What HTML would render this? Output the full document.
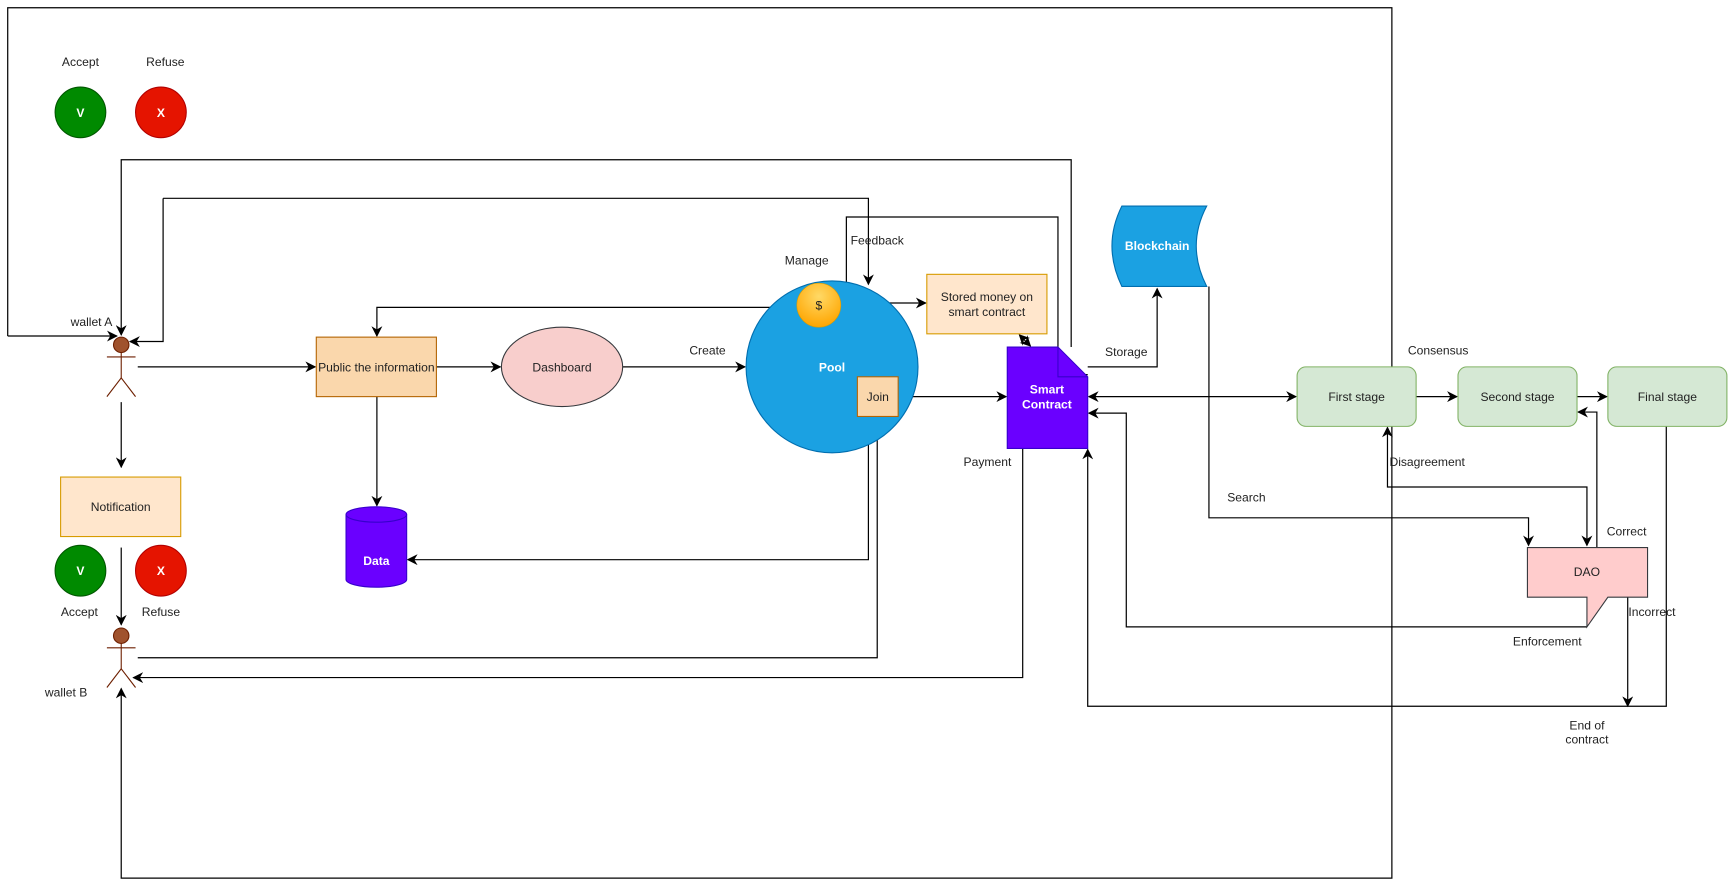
<!DOCTYPE html>
<html><head><meta charset="utf-8"><style>
html,body{margin:0;padding:0;background:#fff;}
svg{display:block;}
text{font-family:"Liberation Sans",Arial,sans-serif;font-size:11px;fill:#222;}
.w{fill:#fff;font-weight:bold;}
.l{fill:none;stroke:#000;stroke-width:1.1;}
</style></head><body>
<svg width="1728" height="888" viewBox="0 0 1568 806" preserveAspectRatio="none" xmlns="http://www.w3.org/2000/svg">
<defs>
<marker id="a" viewBox="0 0 10 10" refX="9" refY="5" markerWidth="9" markerHeight="9" orient="auto-start-reverse"><path d="M0,0 L10,5 L0,10 L3,5 z" fill="#000"/></marker>
<radialGradient id="g" cx="0.5" cy="0.3" r="0.7"><stop offset="0" stop-color="#ffd966"/><stop offset="1" stop-color="#ffa500"/></radialGradient>
</defs>
<rect width="1568" height="806" fill="#fff"/>
<polyline class="l" points="7,305 7,7 1263,7 1263,797 110,797 110,625" marker-end="url(#a)"/>
<line class="l" x1="7" y1="305" x2="106" y2="305" marker-end="url(#a)"/>
<polyline class="l" points="972,315 972,145 110,145 110,304" marker-end="url(#a)"/>
<polyline class="l" points="148,180 788,180 788,258" marker-end="url(#a)"/>
<polyline class="l" points="148,180 148,310 118,310" marker-end="url(#a)"/>
<polyline class="l" points="987,340 960,340 960,197 768,197 768,268" marker-end="url(#a)"/>
<polyline class="l" points="723,279 342,279 342,305" marker-end="url(#a)"/>
<line class="l" x1="765" y1="275" x2="840" y2="275" marker-end="url(#a)"/>
<line class="l" x1="925" y1="304" x2="935" y2="314" marker-start="url(#a)" marker-end="url(#a)"/>
<polyline class="l" points="987,333 1050,333 1050,262" marker-end="url(#a)"/>
<polyline class="l" points="1097,260 1097,470 1387,470 1387,495" marker-end="url(#a)"/>
<line class="l" x1="988" y1="360" x2="1176" y2="360" marker-start="url(#a)" marker-end="url(#a)"/>
<line class="l" x1="1285" y1="360" x2="1322" y2="360" marker-end="url(#a)"/>
<line class="l" x1="1431" y1="360" x2="1458" y2="360" marker-end="url(#a)"/>
<polyline class="l" points="1259,388 1259,442 1440,442 1440,495" marker-start="url(#a)" marker-end="url(#a)"/>
<polyline class="l" points="1449,497 1449,374 1432,374" marker-end="url(#a)"/>
<polyline class="l" points="1440,569 1022,569 1022,375 988,375" marker-end="url(#a)"/>
<line class="l" x1="1477" y1="542" x2="1477" y2="641" marker-end="url(#a)"/>
<polyline class="l" points="1512,387 1512,641 987,641 987,408" marker-end="url(#a)"/>
<polyline class="l" points="928,407 928,615 121,615" marker-end="url(#a)"/>
<line class="l" x1="815" y1="360" x2="913" y2="360" marker-end="url(#a)"/>
<polyline class="l" points="788,400 788,508 370,508" marker-end="url(#a)"/>
<polyline class="l" points="125,597 796,597 796,379" marker-end="url(#a)"/>
<line class="l" x1="125" y1="333" x2="286" y2="333" marker-end="url(#a)"/>
<line class="l" x1="396" y1="333" x2="454" y2="333" marker-end="url(#a)"/>
<line class="l" x1="565" y1="333" x2="676" y2="333" marker-end="url(#a)"/>
<line class="l" x1="342" y1="360" x2="342" y2="459" marker-end="url(#a)"/>
<line class="l" x1="110" y1="365" x2="110" y2="424" marker-end="url(#a)"/>
<line class="l" x1="110" y1="497" x2="110" y2="567" marker-end="url(#a)"/>
<circle cx="755" cy="333" r="78" fill="#1ba1e2" stroke="#006eaf"/>
<text class="w" x="755" y="337" text-anchor="middle">Pool</text>
<circle cx="743" cy="277" r="20" fill="url(#g)" stroke="#d79b00" stroke-width="0.5"/>
<text x="743" y="281" text-anchor="middle">$</text>
<rect x="778" y="342" width="37" height="36" fill="#fad7ac" stroke="#b46504"/>
<text x="796.5" y="364" text-anchor="middle">Join</text>
<rect x="841" y="249" width="109" height="54" fill="#ffe6cc" stroke="#d79b00"/>
<text x="895.5" y="273" text-anchor="middle">Stored money on</text>
<text x="895.5" y="287" text-anchor="middle">smart contract</text>
<path d="M914,315 L960,315 L987,342 L987,407 L914,407 Z" fill="#6a00ff" stroke="#3700cc"/>
<path d="M960,315 L960,342 L987,342" fill="none" stroke="#3700cc"/>
<text class="w" x="950" y="357" text-anchor="middle">Smart</text>
<text class="w" x="950" y="371" text-anchor="middle">Contract</text>
<path d="M1018,187 L1095,187 Q1076,223 1095,260 L1018,260 Q1000,223 1018,187 Z" fill="#1ba1e2" stroke="#006eaf"/>
<text class="w" x="1050" y="227" text-anchor="middle">Blockchain</text>
<rect x="1177" y="333" width="108" height="54" rx="8" fill="#d5e8d4" stroke="#82b366"/>
<text x="1231" y="364" text-anchor="middle">First stage</text>
<rect x="1323" y="333" width="108" height="54" rx="8" fill="#d5e8d4" stroke="#82b366"/>
<text x="1377" y="364" text-anchor="middle">Second stage</text>
<rect x="1459" y="333" width="108" height="54" rx="8" fill="#d5e8d4" stroke="#82b366"/>
<text x="1513" y="364" text-anchor="middle">Final stage</text>
<path d="M1386,497 L1495,497 L1495,542 L1459,542 L1440,569 L1440,542 L1386,542 Z" fill="#ffcccc" stroke="#36393d"/>
<text x="1440" y="523" text-anchor="middle">DAO</text>
<ellipse cx="510" cy="333" rx="55" ry="36" fill="#f8cecc" stroke="#36393d"/>
<text x="510" y="337" text-anchor="middle">Dashboard</text>
<rect x="287" y="306" width="109" height="54" fill="#fad7ac" stroke="#b46504"/>
<text x="341.5" y="337" text-anchor="middle">Public the information</text>
<path d="M314,467 A27.5,7 0 0 1 369,467 L369,526 A27.5,7 0 0 1 314,526 Z" fill="#6a00ff" stroke="#3700cc"/>
<path d="M314,467 A27.5,7 0 0 0 369,467" fill="none" stroke="#3700cc"/>
<text class="w" x="341.5" y="513" text-anchor="middle">Data</text>
<rect x="55" y="433" width="109" height="54" fill="#ffe6cc" stroke="#d79b00"/>
<text x="109.5" y="464" text-anchor="middle">Notification</text>
<g stroke="#6d1f00" fill="none">
<circle cx="110" cy="313" r="7" fill="#a0522d"/>
<line x1="110" y1="320" x2="110" y2="343"/><line x1="97" y1="324" x2="123" y2="324"/>
<polyline points="97,360 110,343 123,360"/>
<circle cx="110" cy="577" r="7" fill="#a0522d"/>
<line x1="110" y1="584" x2="110" y2="607"/><line x1="97" y1="588" x2="123" y2="588"/>
<polyline points="97,624 110,607 123,624"/>
</g>
<circle cx="73" cy="102" r="23" fill="#008a00" stroke="#005700"/>
<text class="w" x="73" y="106" text-anchor="middle">V</text>
<circle cx="146" cy="102" r="23" fill="#e51400" stroke="#b20000"/>
<text class="w" x="146" y="106" text-anchor="middle">X</text>
<circle cx="73" cy="518" r="23" fill="#008a00" stroke="#005700"/>
<text class="w" x="73" y="522" text-anchor="middle">V</text>
<circle cx="146" cy="518" r="23" fill="#e51400" stroke="#b20000"/>
<text class="w" x="146" y="522" text-anchor="middle">X</text>
<text x="73" y="60" text-anchor="middle">Accept</text>
<text x="150" y="60" text-anchor="middle">Refuse</text>
<text x="72" y="559" text-anchor="middle">Accept</text>
<text x="146" y="559" text-anchor="middle">Refuse</text>
<text x="83" y="296" text-anchor="middle">wallet A</text>
<text x="60" y="632" text-anchor="middle">wallet B</text>
<text x="642" y="322" text-anchor="middle">Create</text>
<text x="732" y="240" text-anchor="middle">Manage</text>
<text x="796" y="222" text-anchor="middle">Feedback</text>
<text x="1022" y="323" text-anchor="middle">Storage</text>
<text x="896" y="423" text-anchor="middle">Payment</text>
<text x="1131" y="455" text-anchor="middle">Search</text>
<text x="1305" y="322" text-anchor="middle">Consensus</text>
<text x="1295" y="423" text-anchor="middle">Disagreement</text>
<text x="1476" y="486" text-anchor="middle">Correct</text>
<text x="1499" y="559" text-anchor="middle">Incorrect</text>
<text x="1404" y="586" text-anchor="middle">Enforcement</text>
<text x="1440" y="662" text-anchor="middle">End of</text>
<text x="1440" y="675" text-anchor="middle">contract</text>
</svg>
</body></html>
